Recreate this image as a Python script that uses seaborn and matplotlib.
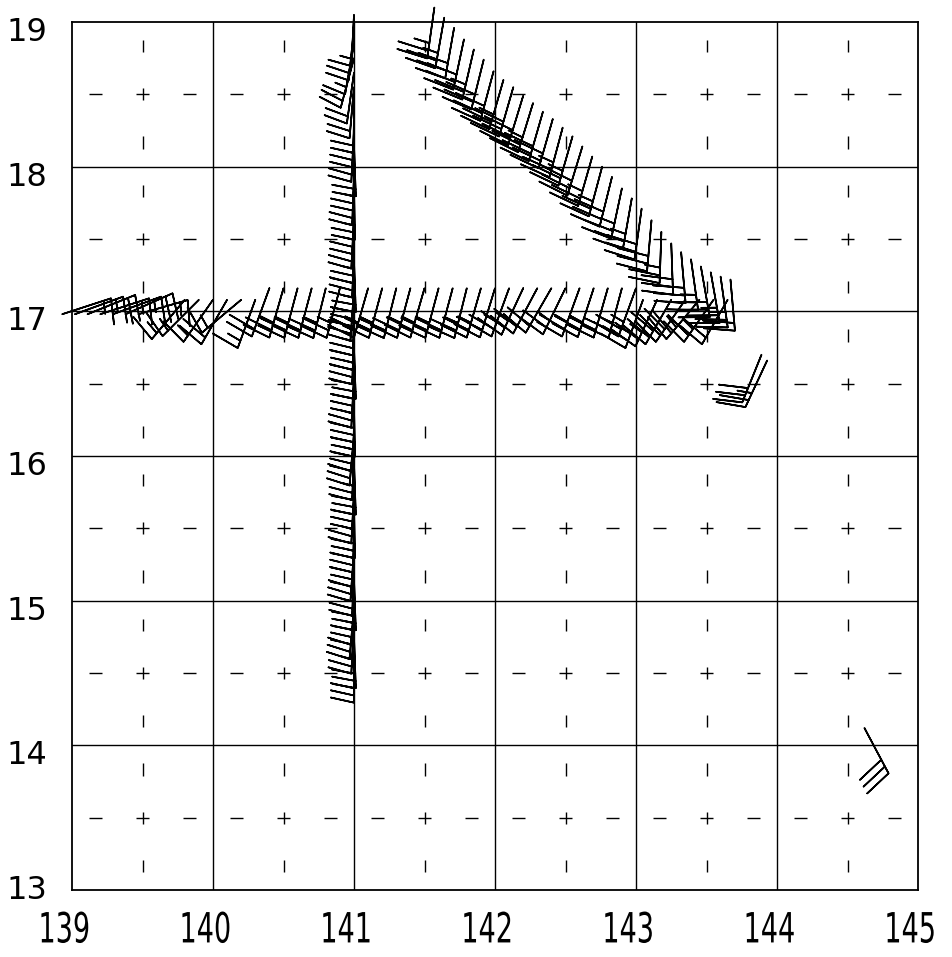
import numpy as np
import matplotlib
matplotlib.use("Agg")
import matplotlib.pyplot as plt
import matplotlib.transforms as mtransforms
from matplotlib.patheffects import AbstractPathEffect
import seaborn as sns

sns.set_theme(style="white", rc={"axes.edgecolor": "black", "axes.linewidth": 1.3})
plt.rcParams['font.family'] = ['DejaVu Sans']

# ---- wind observations (lon, lat, direction from [deg], speed [kt]) ----
# leg along 141E
A_LON = 141.0
A_LAT = [14.65, 14.75, 14.85, 14.95, 15.05, 15.15, 15.25, 15.35, 15.45,
         15.55, 15.65, 15.75, 15.85, 15.95, 16.05, 16.15, 16.25, 16.35, 16.45,
         16.55, 16.65, 16.75, 16.85, 16.95, 17.05, 17.15, 17.25, 17.35, 17.45,
         17.55, 17.65, 17.75, 17.85, 17.95, 18.05, 18.15, 18.25, 18.35, 18.45,
         18.55, 18.65, 18.75, 18.85, 18.95, 19.05]
A_DIR = [180, 178, 183, 185, 180, 178, 182, 184, 180,
         181, 179, 183, 180, 178, 182, 185, 181, 179, 180,
         183, 180, 178, 182, 180, 181, 184, 180, 178, 182,
         180, 183, 181, 179, 182, 180, 178, 183, 181, 180,
         185, 188, 195, 190, 186, 183]
A_SPD = [30, 30, 25, 30, 35, 30, 25, 30, 30,
         35, 30, 25, 30, 30, 25, 30, 35, 30, 30,
         25, 30, 30, 35, 30, 25, 30, 30, 25, 30,
         25, 20, 25, 25, 20, 25, 20, 20, 25, 20,
         20, 20, 20, 15, 20, 15]

# diagonal leg from the NW corner down to 143.7E / 17.2N
B_LON = [141.57, 141.64, 141.71, 141.78, 141.85, 141.92, 141.99, 142.06, 142.13, 142.20,
         142.27, 142.34, 142.41, 142.48, 142.55, 142.62, 142.69, 142.76, 142.83, 142.90,
         142.97, 143.04, 143.11, 143.18, 143.25, 143.32, 143.39, 143.46, 143.53, 143.60,
         143.67]
B_LAT = [19.10, 19.03, 18.96, 18.88, 18.81, 18.74, 18.66, 18.60, 18.55, 18.49,
         18.44, 18.38, 18.33, 18.27, 18.21, 18.14, 18.07, 18.00, 17.93, 17.85,
         17.78, 17.71, 17.63, 17.55, 17.47, 17.41, 17.36, 17.31, 17.27, 17.24,
         17.22]
B_DIR = [188, 190, 190, 192, 193, 194, 195, 196, 196, 197,
         197, 196, 196, 195, 196, 197, 196, 195, 194, 192,
         190, 188, 185, 182, 178, 175, 172, 170, 170, 172,
         175]
B_SPD = [25, 25, 30, 30, 25, 30, 30, 25, 30, 30,
         25, 30, 30, 25, 25, 30, 25, 25, 30, 25,
         25, 30, 30, 25, 30, 30, 25, 30, 25, 25,
         20]

# leg along 17N
C_LON = [140.40, 140.50, 140.60, 140.70, 140.80, 140.90, 141.10, 141.20, 141.30, 141.40,
         141.50, 141.60, 141.70, 141.80, 141.90, 142.00, 142.10, 142.20, 142.30, 142.40,
         142.50, 142.60, 142.70, 142.80, 142.90, 143.00]
C_LAT = 17.16
C_DIR = [200, 196, 195, 195, 194, 195, 196, 195, 194, 195,
         196, 195, 195, 194, 196, 197, 200, 205, 208, 210,
         206, 200, 198, 196, 195, 200]
C_SPD = [20, 25, 25, 20, 25, 25, 25, 25, 20, 25,
         25, 25, 20, 25, 25, 20, 25, 25, 20, 20,
         25, 25, 25, 20, 25, 25]

# east end of the 17N leg
D_LON = [143.05, 143.15, 143.25, 143.35, 143.45, 143.55, 143.65]
D_LAT = 17.08
D_DIR = [200, 205, 210, 215, 220, 215, 210]
D_SPD = [25, 25, 30, 30, 25, 25, 20]

# west end of the 17N leg
E_LON = [138.93, 139.02, 139.11, 139.20, 139.29, 139.38, 139.47]
E_LAT = 16.98
E_DIR = [72, 70, 68, 72, 70, 66, 74]
E_SPD = [15, 15, 20, 15, 15, 20, 15]

F_LON = [139.80, 139.90, 140.00, 140.10, 140.20, 140.30]
F_LAT = 17.08
F_DIR = [220, 225, 215, 210, 230, 200]
F_SPD = [15, 15, 15, 20, 15, 15]

# single reports
G_LON = [143.89, 143.93, 144.62]
G_LAT = [16.70, 16.66, 14.12]
G_DIR = [202, 205, 152]
G_SPD = [30, 25, 30]

X_TICKS = [139, 140, 141, 142, 143, 144, 145]
Y_TICKS = [13, 14, 15, 16, 17, 18, 19]


def uv(direction, speed):
    d = np.deg2rad(np.asarray(direction, dtype=float))
    s = np.asarray(speed, dtype=float)
    return -s * np.sin(d), -s * np.cos(d)


class Squeeze(AbstractPathEffect):
    """narrow the text about its centre, like the plotter font of the original"""
    def __init__(self, sx=0.65):
        super().__init__()
        self._sx = sx

    def draw_path(self, renderer, gc, tpath, affine, rgbFace=None):
        ext = tpath.get_extents()
        cx = 0.5 * (ext.x0 + ext.x1)
        squeeze = mtransforms.Affine2D().translate(-cx, 0).scale(self._sx, 1.0).translate(cx, 0)
        renderer.draw_path(gc, tpath, squeeze + affine, rgbFace)


fig = plt.figure(figsize=(9.52, 9.57), dpi=100)
ax = fig.add_axes([72 / 952, 1 - 890 / 957, 846 / 952, 868 / 957])
ax.set_xlim(139, 145)
ax.set_ylim(13, 19)

# solid grid on whole degrees
for x in X_TICKS[1:-1]:
    ax.axvline(x, color="black", lw=1.0, zorder=1)
for y in Y_TICKS[1:-1]:
    ax.axhline(y, color="black", lw=1.0, zorder=1)

# dashed grid on half degrees
thirds = np.array([1 / 6, 1 / 2, 5 / 6])
ycent = np.concatenate([n + thirds for n in Y_TICKS[:-1]])
xcent = np.concatenate([n + thirds for n in X_TICKS[:-1]])
for xh in np.array(X_TICKS[:-1]) + 0.5:
    ax.vlines(np.full(ycent.size, xh), ycent - 0.042, ycent + 0.042,
              color="black", lw=1.0, zorder=1)
for yh in np.array(Y_TICKS[:-1]) + 0.5:
    ax.hlines(np.full(xcent.size, yh), xcent - 0.043, xcent + 0.043,
              color="black", lw=1.0, zorder=1)

base_kw = dict(length=8.6, pivot="tip", color="black", linewidth=1.2, zorder=3)
track_sizes = dict(height=0.55, spacing=0.15, width=-0.2)

groups = [
    (np.full(len(A_LAT), A_LON), A_LAT, A_DIR, A_SPD, dict(height=0.45, spacing=0.14, width=-0.2)),
    (B_LON, B_LAT, B_DIR, B_SPD, dict(height=0.6, spacing=0.15, width=-0.2)),
    (C_LON, np.full(len(C_LON), C_LAT), C_DIR, C_SPD, track_sizes),
    (D_LON, np.full(len(D_LON), D_LAT), D_DIR, D_SPD, track_sizes),
    (E_LON, np.full(len(E_LON), E_LAT), E_DIR, E_SPD, dict(height=0.5, spacing=0.15, width=-0.2)),
    (F_LON, np.full(len(F_LON), F_LAT), F_DIR, F_SPD, track_sizes),
    (G_LON, G_LAT, G_DIR, G_SPD, dict(height=0.55, spacing=0.15, width=0.3)),
]
for lon, lat, d, s, sz in groups:
    u, v = uv(d, s)
    b = ax.barbs(lon, lat, u, v, sizes=sz, **base_kw)
    b.set_clip_on(False)

ax.set_xticks(X_TICKS)
ax.set_yticks(Y_TICKS)
ax.set_xticklabels([str(t) for t in X_TICKS], fontsize=30)
ax.set_yticklabels([str(t) for t in Y_TICKS], fontsize=23)
ax.tick_params(axis="both", length=0, colors="black")
ax.tick_params(axis="x", pad=14)
ax.tick_params(axis="y", pad=18)

shift_x = mtransforms.ScaledTranslation(-8 / 100, 0, fig.dpi_scale_trans)
for lab in ax.get_xticklabels():
    lab.set_path_effects([Squeeze(0.65)])
    lab.set_transform(lab.get_transform() + shift_x)
for i, lab in enumerate(ax.get_yticklabels()):
    dy = 3 if i == 0 else -7   # keep the corner "13" clear of "139"
    lab.set_transform(lab.get_transform()
                      + mtransforms.ScaledTranslation(0, dy / 100, fig.dpi_scale_trans))

for sp in ax.spines.values():
    sp.set_color("black")
    sp.set_linewidth(1.3)

ax.grid(False)
fig.savefig("out.png", dpi=100, facecolor="white")
